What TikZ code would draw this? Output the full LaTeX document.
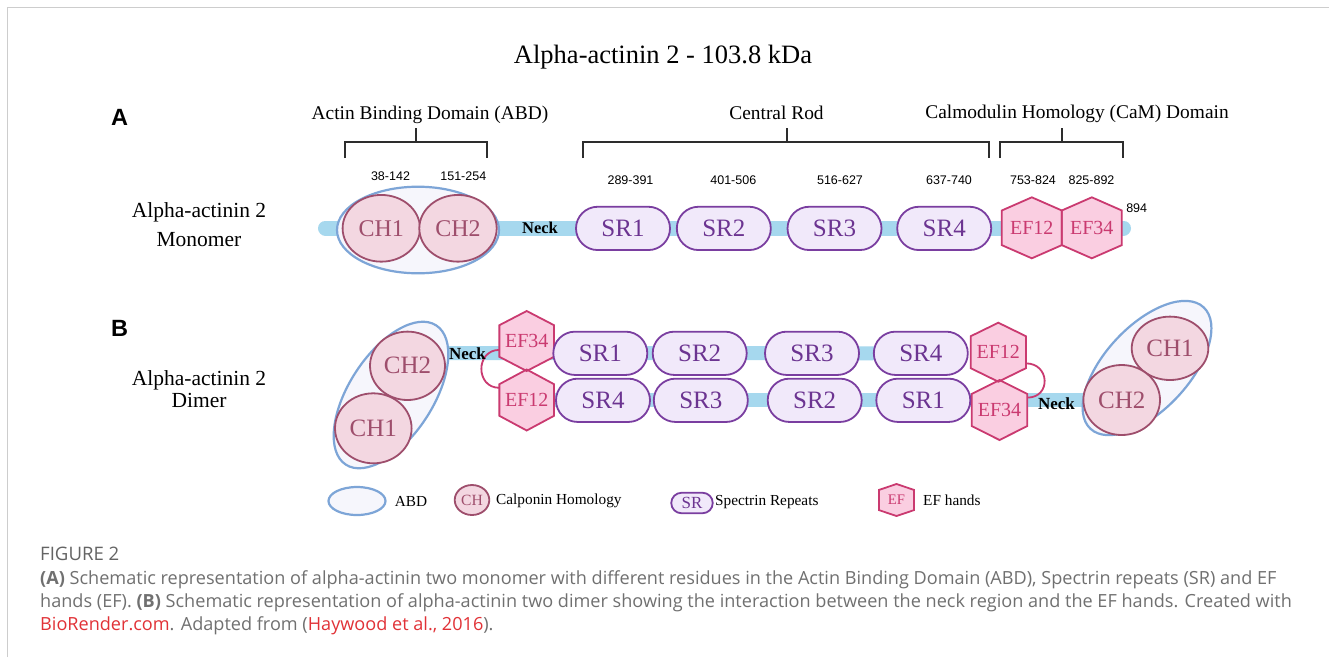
\documentclass[tikz,border=0pt]{standalone}
\usepackage{fontspec}
\setmainfont{Liberation Serif}
\newfontfamily\numfont{Liberation Sans}
\newfontfamily\capfont{Open Sans}
\usetikzlibrary{shapes.geometric,shapes.misc,backgrounds}
\pgfdeclarelayer{hexlayer}
\pgfsetlayers{background,hexlayer,main}

\definecolor{barblue}{RGB}{166,216,238}
\definecolor{abdline}{RGB}{125,165,215}
\definecolor{abdfill}{RGB}{246,246,252}
\definecolor{chline}{RGB}{158,78,108}
\definecolor{chfill}{RGB}{243,215,225}
\definecolor{srline}{RGB}{122,62,160}
\definecolor{srfill}{RGB}{241,233,250}
\definecolor{srtext}{RGB}{108,52,145}
\definecolor{efline}{RGB}{202,58,112}
\definecolor{effill}{RGB}{250,206,225}
\definecolor{captxt}{RGB}{112,112,112}
\definecolor{figgray}{RGB}{100,100,100}
\definecolor{capred}{RGB}{225,50,55}
\definecolor{framegray}{RGB}{205,205,205}
\definecolor{brk}{RGB}{45,45,45}

\newcommand{\fs}[1]{\fontsize{#1}{#1}\selectfont}

\tikzset{
  abdbox/.style={ellipse, draw=abdline, fill=abdfill, line width=2.2pt, inner sep=0pt},
  chbox/.style={ellipse, draw=chline, fill=chfill, line width=1.8pt, inner sep=0pt,
    text=chline, font=\fs{24}},
  srbox/.style={rounded rectangle, draw=srline, fill=srfill, line width=1.8pt, inner sep=0pt,
    minimum width=94pt, minimum height=43pt, text=srtext, font=\fs{25}},
  efbox/.style={rectangle, inner sep=0pt, outer sep=0pt, text=efline, font=\fs{20}},
  hexp/.style={insert path={(#1.north) -- (#1.30) -- (#1.-30) -- (#1.south) -- (#1.210) -- (#1.150) -- cycle}},
  hexfill/.style={fill=effill},
  hexline/.style={draw=efline, line width=1.8pt, line join=miter},
  backbone/.style={draw=barblue, line width=14pt, line cap=round},
  bracket/.style={draw=brk, line width=1.8pt},
  loopline/.style={draw=efline, line width=1.8pt},
  lbl/.style={inner sep=0pt, anchor=base},
  numlbl/.style={inner sep=0pt, font=\numfont\fs{12.5}},
  necklbl/.style={inner sep=0pt, font=\bfseries\fs{16.5}},
  legtext/.style={inner sep=0pt, anchor=base west, font=\fs{15.3}},
  captext/.style={inner sep=0pt, anchor=base west, text=captxt, font=\capfont\fs{18.1}},
}

\begin{document}
\begin{tikzpicture}[x=1pt, y=-1pt]
\useasboundingbox (0,0) rectangle (1329,657);
\begin{pgfonlayer}{background}
  \fill[white] (0,0) rectangle (1329,657);
\end{pgfonlayer}
\draw[framegray, line width=1.5pt] (7.5,657) -- (7.5,7.5) -- (1329,7.5);

% title and panel letters
\node[lbl, font=\fs{26.5}] (title) at (663,63) {Alpha-actinin 2 - 103.8 kDa};
\node[lbl, font=\numfont\bfseries\fs{23.5}] (pA) at (119.5,125) {A};
\node[lbl, font=\numfont\bfseries\fs{23.5}] (pB) at (119.5,336) {B};

% row labels
\node[lbl, font=\fs{21.5}] (mlab1) at (199,217.3) {Alpha-actinin 2};
\node[lbl, font=\fs{21.5}] (mlab2) at (199,246.7) {Monomer};
\node[lbl, font=\fs{21.5}] (dlab1) at (199,385) {Alpha-actinin 2};
\node[lbl, font=\fs{21.5}] (dlab2) at (199,407.3) {Dimer};

% brackets
\node[lbl, font=\fs{19.4}] (labd) at (430,119) {Actin Binding Domain (ABD)};
\node[lbl, font=\fs{19.4}] (lrod) at (776.5,119) {Central Rod};
\node[lbl, font=\fs{19.4}] (lcam) at (1077,118) {Calmodulin Homology (CaM) Domain};
\draw[bracket] (345,158) -- (345,142) -- (487,142) -- (487,158);
\draw[bracket] (416,142) -- (416,128);
\draw[bracket] (583,158) -- (583,142) -- (989,142) -- (989,158);
\draw[bracket] (787,142) -- (787,128);
\draw[bracket] (1000,158) -- (1000,142) -- (1123,142) -- (1123,158);
\draw[bracket] (1062,142) -- (1062,128);

% residue numbers
\node[numlbl] (n1) at (390.5,176.2) {38-142};
\node[numlbl] (n2) at (463.3,176.2) {151-254};
\node[numlbl] (n3) at (630.5,180.5) {289-391};
\node[numlbl] (n4) at (733.3,180.5) {401-506};
\node[numlbl] (n5) at (840,180.5) {516-627};
\node[numlbl] (n6) at (949,180.5) {637-740};
\node[numlbl] (n7) at (1033,180.5) {753-824};
\node[numlbl] (n8) at (1091.5,180.5) {825-892};
\node[numlbl] (n9) at (1136.7,207.7) {894};

% ---------- monomer ----------
\coordinate (mL) at (325.5,228);
\coordinate (mR) at (1123.5,228);
\node[abdbox, minimum width=162pt, minimum height=86.6pt] (mABD) at (418,230) {};
\node[chbox, minimum width=77.4pt, minimum height=66.7pt] (mCH1) at (381.3,228.3) {CH1};
\node[chbox, minimum width=77.4pt, minimum height=66.7pt] (mCH2) at (458,228.3) {CH2};
\node[necklbl] (mNeck) at (540,228) {Neck};
\node[srbox, minimum height=43.3pt] (mSR1) at (623,228.4) {SR1};
\node[srbox, minimum height=43.3pt] (mSR2) at (723.8,228.4) {SR2};
\node[srbox, minimum height=43.3pt] (mSR3) at (834.5,228.4) {SR3};
\node[srbox, minimum height=43.3pt] (mSR4) at (944.2,228.4) {SR4};
\node[efbox, minimum width=60pt, minimum height=61pt] (mEF12) at (1031.8,227.8) {EF12};
\node[efbox, minimum width=60pt, minimum height=61pt] (mEF34) at (1091.8,227.8) {EF34};

% ---------- dimer ----------
\coordinate (dTL) at (447,353);
\node[abdbox, minimum width=166pt, minimum height=84pt, rotate=57] (dABDL) at (391,395) {};
\node[chbox, font=\fs{25}, minimum width=75pt, minimum height=68.4pt] (dCH2L) at (407.5,365.8) {CH2};
\node[chbox, font=\fs{25}, minimum width=76.6pt, minimum height=70pt] (dCH1L) at (373.3,428.3) {CH1};
\node[necklbl, font=\bfseries\fs{17}] (dNeckL) at (467.5,353.3) {Neck};

\node[srbox, minimum height=43.3pt] (tSR1) at (600.3,353.3) {SR1};
\node[srbox, minimum height=43.3pt] (tSR2) at (699.7,353.3) {SR2};
\node[srbox, minimum height=43.3pt] (tSR3) at (812,353.3) {SR3};
\node[srbox, minimum height=43.3pt] (tSR4) at (920.8,353.3) {SR4};
\node[srbox, minimum height=43.3pt] (bSR4) at (603,400.3) {SR4};
\node[srbox, minimum height=43.3pt] (bSR3) at (700.8,400.3) {SR3};
\node[srbox, minimum height=43.3pt] (bSR2) at (814.7,400.3) {SR2};
\node[srbox, minimum height=43.3pt] (bSR1) at (923.3,400.3) {SR1};

\node[efbox, minimum width=54.7pt, minimum height=60pt] (efTL) at (526.7,341) {EF34};
\node[efbox, minimum width=54.7pt, minimum height=61pt] (efBL) at (526.7,400) {EF12};
\node[efbox, minimum width=55.3pt, minimum height=59pt] (efTR) at (998.3,352.2) {EF12};
\node[efbox, minimum width=55.6pt, minimum height=60pt] (efBR) at (999.5,410) {EF34};

\node[necklbl, font=\bfseries\fs{17}] (dNeckR) at (1056.5,403.3) {Neck};
\node[abdbox, minimum width=166pt, minimum height=84pt, rotate=47] (dABDR) at (1147,368) {};
\node[chbox, font=\fs{25}, minimum width=76.6pt, minimum height=63.4pt] (dCH1R) at (1170,348.3) {CH1};
\node[chbox, font=\fs{25}, minimum width=76.6pt, minimum height=70pt] (dCH2R) at (1121.7,400) {CH2};

% ---------- legend ----------
\node[abdbox, minimum width=57pt, minimum height=28pt] (lgABD) at (357,501) {};
\node[legtext] (lgABDt) at (394.6,506.5) {ABD};
\node[chbox, font=\fs{15.6}, minimum width=34.6pt, minimum height=30pt] (lgCH) at (472,500) {CH};
\node[legtext] (lgCHt) at (496,504) {Calponin Homology};
\node[srbox, font=\fs{17}, minimum width=41.5pt, minimum height=20.5pt] (lgSR) at (692,503) {SR};
\node[legtext] (lgSRt) at (715,505) {Spectrin Repeats};
\node[efbox, font=\fs{14.6}, minimum width=35pt, minimum height=32pt] (lgEF) at (896.5,500) {EF};
\node[legtext] (lgEFt) at (923,505.5) {EF hands};

% ---------- backbones and hexagons ----------
\begin{scope}[on background layer]
  \draw[backbone, line width=15pt] (mL) -- (mR);
  \draw[backbone] (dTL) -- (tSR4);
  \draw[backbone] (efBL) -- (dCH2R);
\end{scope}
\begin{pgfonlayer}{hexlayer}
  \foreach \h in {mEF12,mEF34,efTL,efBL,efTR,efBR,lgEF} {
    \path[hexfill, hexp=\h];
  }
  \foreach \h in {mEF12,mEF34,efTL,efBL,efTR,efBR,lgEF} {
    \path[hexline, hexp=\h];
  }
  \draw[loopline] (efTL.198) .. controls +(-24,0) and +(-24,0) .. (efBL.156);
  \draw[loopline] (efTR.-22) .. controls +(24,0) and +(24,0) .. (efBR.24);
\end{pgfonlayer}

% ---------- caption ----------
\node[captext, text=figgray, font=\capfont\fs{18.6}] (figno) at (40,560.7) {FIGURE 2};
\node[captext] (cap1) at (40,584.3) {{\bfseries (A)} Schematic representation of alpha-actinin two monomer with different residues in the Actin Binding Domain (ABD), Spectrin repeats (SR) and EF};
\node[captext] (cap2) at (40,607.3) {hands (EF). {\bfseries (B)} Schematic representation of alpha-actinin two dimer showing the interaction between the neck region and the EF hands. Created with};
\node[captext] (cap3) at (40,630) {\textcolor{capred}{BioRender.com}. Adapted from (\textcolor{capred}{Haywood et al., 2016}).};
\end{tikzpicture}
\end{document}
